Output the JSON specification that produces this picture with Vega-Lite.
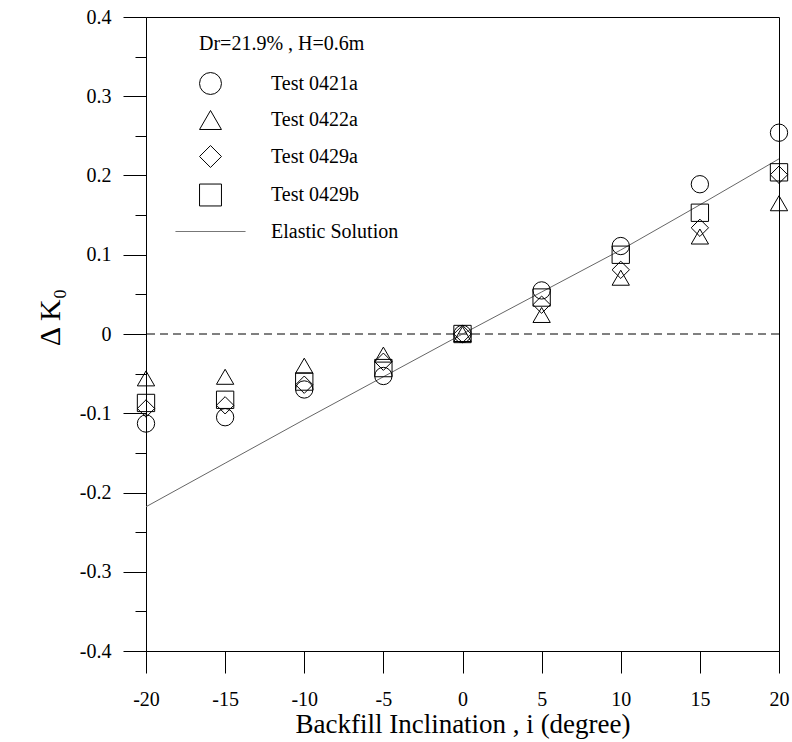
{
  "$schema": "https://vega.github.io/schema/vega-lite/v6.json",
  "width": 633,
  "height": 634,
  "autosize": {"type": "none"},
  "padding": {"left": 146, "top": 17, "right": 13, "bottom": 91},
  "background": "white",
  "config": {
    "view": {"stroke": "black", "strokeWidth": 1},
    "font": "Liberation Serif",
    "axis": {
      "grid": false,
      "labelFlush": false,
      "domainColor": "black",
      "tickColor": "black",
      "labelColor": "black",
      "titleColor": "black",
      "labelFont": "Liberation Serif",
      "titleFont": "Liberation Serif",
      "titleFontWeight": "normal"
    }
  },
  "datasets": {
    "tests": [
      {"i": -20, "dk": -0.113, "test": "Test 0421a"},
      {"i": -15, "dk": -0.105, "test": "Test 0421a"},
      {"i": -10, "dk": -0.070, "test": "Test 0421a"},
      {"i": -5, "dk": -0.053, "test": "Test 0421a"},
      {"i": 0, "dk": 0.0, "test": "Test 0421a"},
      {"i": 5, "dk": 0.055, "test": "Test 0421a"},
      {"i": 10, "dk": 0.111, "test": "Test 0421a"},
      {"i": 15, "dk": 0.189, "test": "Test 0421a"},
      {"i": 20, "dk": 0.254, "test": "Test 0421a"},
      {"i": -20, "dk": -0.056, "test": "Test 0422a"},
      {"i": -15, "dk": -0.054, "test": "Test 0422a"},
      {"i": -10, "dk": -0.040, "test": "Test 0422a"},
      {"i": -5, "dk": -0.026, "test": "Test 0422a"},
      {"i": 0, "dk": 0.0, "test": "Test 0422a"},
      {"i": 5, "dk": 0.024, "test": "Test 0422a"},
      {"i": 10, "dk": 0.071, "test": "Test 0422a"},
      {"i": 15, "dk": 0.123, "test": "Test 0422a"},
      {"i": 20, "dk": 0.165, "test": "Test 0422a"},
      {"i": -20, "dk": -0.094, "test": "Test 0429a"},
      {"i": -15, "dk": -0.090, "test": "Test 0429a"},
      {"i": -10, "dk": -0.064, "test": "Test 0429a"},
      {"i": -5, "dk": -0.035, "test": "Test 0429a"},
      {"i": 0, "dk": 0.0, "test": "Test 0429a"},
      {"i": 5, "dk": 0.037, "test": "Test 0429a"},
      {"i": 10, "dk": 0.081, "test": "Test 0429a"},
      {"i": 15, "dk": 0.134, "test": "Test 0429a"},
      {"i": 20, "dk": 0.201, "test": "Test 0429a"},
      {"i": -20, "dk": -0.087, "test": "Test 0429b"},
      {"i": -15, "dk": -0.083, "test": "Test 0429b"},
      {"i": -10, "dk": -0.060, "test": "Test 0429b"},
      {"i": -5, "dk": -0.043, "test": "Test 0429b"},
      {"i": 0, "dk": 0.0, "test": "Test 0429b"},
      {"i": 5, "dk": 0.046, "test": "Test 0429b"},
      {"i": 10, "dk": 0.100, "test": "Test 0429b"},
      {"i": 15, "dk": 0.153, "test": "Test 0429b"},
      {"i": 20, "dk": 0.204, "test": "Test 0429b"}
    ],
    "elastic": [
      {"i": -20, "dk": -0.218},
      {"i": -15, "dk": -0.163},
      {"i": -10, "dk": -0.108},
      {"i": -5, "dk": -0.054},
      {"i": 0, "dk": 0.0},
      {"i": 5, "dk": 0.053},
      {"i": 10, "dk": 0.106},
      {"i": 15, "dk": 0.163},
      {"i": 20, "dk": 0.221}
    ],
    "zero": [{"dk": 0}]
  },
  "layer": [
    {
      "data": {"name": "zero"},
      "mark": {"type": "rule", "color": "black", "strokeWidth": 1, "strokeDash": [8, 5]},
      "encoding": {
        "y": {
          "field": "dk",
          "type": "quantitative",
          "scale": {"domain": [-0.4, 0.4], "nice": false, "zero": false},
          "axis": {
            "orient": "left",
            "values": [-0.35, -0.25, -0.15, -0.05, 0.05, 0.15, 0.25, 0.35],
            "labels": false,
            "domain": false,
            "tickSize": 11,
            "title": null
          }
        }
      }
    },
    {
      "data": {"name": "elastic"},
      "mark": {"type": "line", "color": "#666666", "strokeWidth": 1},
      "encoding": {
        "x": {
          "field": "i",
          "type": "quantitative",
          "scale": {"domain": [-20, 20], "nice": false, "zero": false},
          "axis": {
            "values": [-20, -15, -10, -5, 0, 5, 10, 15, 20],
            "labelExpr": "datum.value + ''",
            "labelFlush": false,
            "tickSize": 22,
            "labelPadding": 16,
            "labelFontSize": 20,
            "title": "Backfill Inclination , i (degree)",
            "titleFontSize": 27,
            "titlePadding": 2
          }
        },
        "y": {"field": "dk", "type": "quantitative", "axis": null}
      }
    },
    {
      "data": {"name": "tests"},
      "mark": {"type": "point", "filled": false, "size": 300, "strokeWidth": 1, "opacity": 1},
      "encoding": {
        "x": {
          "field": "i",
          "type": "quantitative",
          "scale": {"domain": [-20, 20], "nice": false, "zero": false},
          "axis": {
            "values": [-20, -15, -10, -5, 0, 5, 10, 15, 20],
            "labelExpr": "datum.value + ''",
            "labelFlush": false,
            "tickSize": 22,
            "labelPadding": 16,
            "labelFontSize": 20,
            "title": "Backfill Inclination , i (degree)",
            "titleFontSize": 27,
            "titlePadding": 2
          }
        },
        "y": {
          "field": "dk",
          "type": "quantitative",
          "axis": {
            "orient": "left",
            "values": [-0.4, -0.3, -0.2, -0.1, 0, 0.1, 0.2, 0.3, 0.4],
            "labelExpr": "datum.value + ''",
            "labelFlush": false,
            "tickSize": 23,
            "labelPadding": 12,
            "labelFontSize": 20,
            "title": "Δ K₀",
            "titleFontSize": 30,
            "titlePadding": 14,
            "titleY": 300
          }
        },
        "shape": {
          "field": "test",
          "type": "nominal",
          "scale": {
            "domain": ["Test 0421a", "Test 0422a", "Test 0429a", "Test 0429b", "Elastic Solution"],
            "range": ["circle", "triangle-up", "diamond", "square", "M-3.2,0H3.2"]
          },
          "legend": {
            "orient": "none",
            "legendX": 53,
            "legendY": 17,
            "title": "Dr=21.9% , H=0.6m",
            "titleFont": "Liberation Serif",
            "titleFontSize": 20,
            "titleFontWeight": "normal",
            "titleColor": "black",
            "titlePadding": 18,
            "labelFont": "Liberation Serif",
            "labelFontSize": 20,
            "labelColor": "black",
            "labelOffset": 49,
            "symbolSize": 480,
            "symbolStrokeWidth": 1,
            "rowPadding": 11.5,
            "padding": 0
          }
        },
        "stroke": {
          "field": "test",
          "type": "nominal",
          "scale": {
            "domain": ["Test 0421a", "Test 0422a", "Test 0429a", "Test 0429b", "Elastic Solution"],
            "range": ["black", "black", "black", "black", "#777777"]
          },
          "legend": {
            "orient": "none",
            "legendX": 53,
            "legendY": 17,
            "title": "Dr=21.9% , H=0.6m",
            "titleFont": "Liberation Serif",
            "titleFontSize": 20,
            "titleFontWeight": "normal",
            "titleColor": "black",
            "titlePadding": 18,
            "labelFont": "Liberation Serif",
            "labelFontSize": 20,
            "labelColor": "black",
            "labelOffset": 49,
            "symbolSize": 480,
            "symbolStrokeWidth": 1,
            "rowPadding": 11.5,
            "padding": 0
          }
        }
      }
    }
  ],
  "resolve": {"axis": {"y": "independent"}}
}
